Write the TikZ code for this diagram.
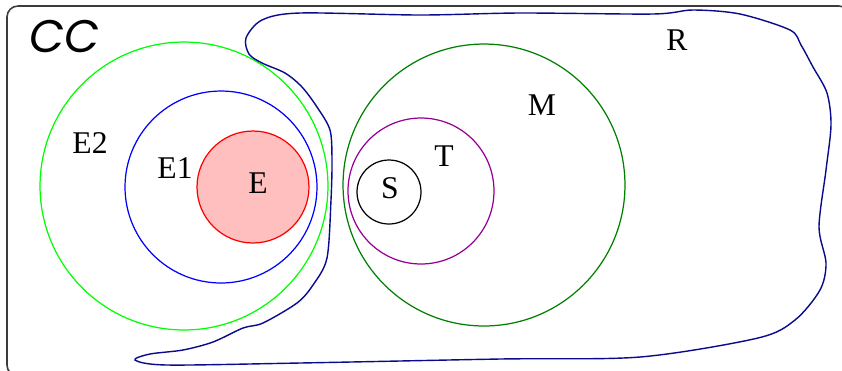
\documentclass[tikz,border=0pt]{standalone}
\usepackage{fontspec}
\setmainfont{Liberation Serif}
\newfontfamily\ccfont[FakeSlant=0.15]{Poppins}
\usepackage{tikz}
\usetikzlibrary{positioning}
\definecolor{setgreen}{RGB}{0,255,0}
\definecolor{setblue}{RGB}{0,0,255}
\definecolor{setred}{RGB}{255,0,0}
\definecolor{setpink}{RGB}{255,191,191}
\definecolor{darkgreen}{RGB}{0,128,0}
\definecolor{setpurple}{RGB}{150,0,150}
\definecolor{navyblue}{RGB}{10,10,140}
\definecolor{framegray}{RGB}{60,60,60}

\begin{document}
\begin{tikzpicture}[
    x=0.02cm, y=-0.02cm,
    set/.style={draw, circle, line width=0.7pt, inner sep=0pt},
    lbl/.style={font=\fontsize{18}{20}\selectfont, inner sep=0pt},
    frame/.style={draw=framegray, line width=0.9pt, rounded corners=0.22cm}
  ]
    \path[use as bounding box] (0,0) rectangle (842,370);
    \clip (0,0) rectangle (842,370);
    \draw[frame] (7,6) rectangle (850,376);
    \node[anchor=base west, inner sep=0pt, font=\ccfont\fontsize{26}{28}\selectfont] (cc) at (27,52) {CC};
    % left family of sets
    \node[set, draw=setgreen, minimum size=5.76cm] (E2) at (184,186) {};
    \node[set, draw=setblue, minimum size=3.84cm] (E1) at (221,187) {};
    \node[set, draw=setred, fill=setpink, minimum size=2.24cm] (E) at (253,187) {};
    \node[lbl] (lE2) at (90,143) {E2};
    \node[lbl] (lE1) at (175,168) {E1};
    \node[lbl] (lE) at (258,183) {E};
    % right family of sets
    \node[set, draw=darkgreen, minimum size=5.64cm] (M) at (484,185) {};
    \node[set, draw=setpurple, minimum size=2.92cm] (T) at (421,191) {};
    \node[set, draw=black, minimum size=1.28cm] (S) at (389,192) {};
    \node[lbl] (lM) at (542,105) {M};
    \node[lbl] (lT) at (444,156) {T};
    \node[lbl] (lS) at (390,188) {S};
    % region R
    \draw[navyblue, line width=0.8pt] plot[smooth cycle, tension=0.5] coordinates {
      (300,13) (420,15) (520,13) (653,14) (693,10) (740,14) (790,30) (801,45)
      (813,67) (827,93) (831,125) (826,170) (819,227) (826,263) (820,290)
      (795,320) (758,338) (640,357) (500,359) (300,363)
      (167,365) (135,360) (150,354) (183,350) (213,342) (243,328) (263,323)
      (297,303) (313,285) (327,258) (331,200) (332,160) (330,130) (317,107)
      (302,87) (285,73) (262,63) (249,54) (246,38) (262,20)};
    \node[lbl] (lR) at (677,40) {R};
  \end{tikzpicture}
\end{document}
